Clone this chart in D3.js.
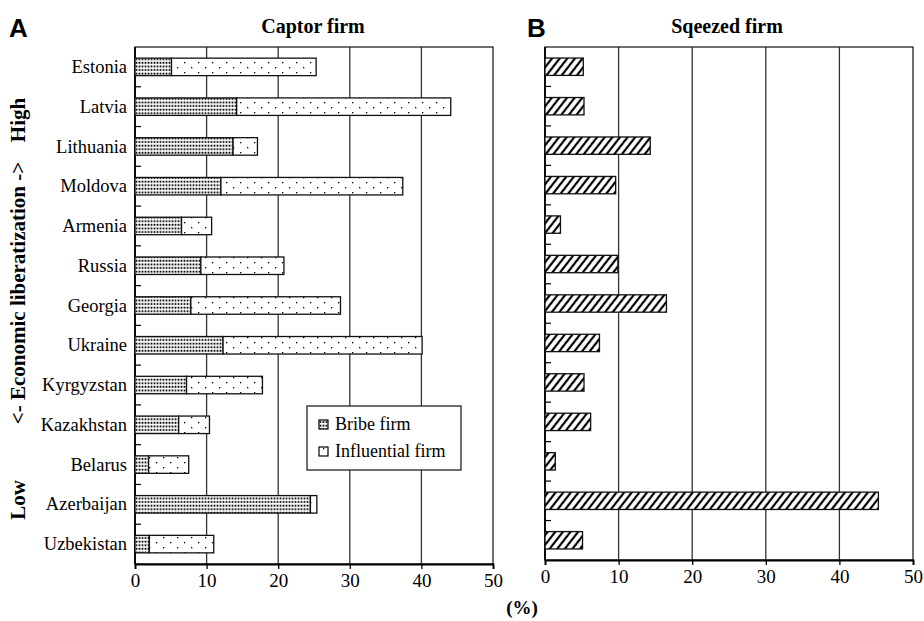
<!DOCTYPE html>
<html>
<head>
<meta charset="utf-8">
<script src="https://cdn.jsdelivr.net/npm/d3@7"></script>
<style>
  body { margin: 0; background: #fff; }
  svg { display: block; }
  text { font-family: "Liberation Serif", "Times New Roman", serif; fill: #000; }
</style>
</head>
<body>
<div id="chart"></div>
<script>
/* data (percent of firms) */
const countries = ["Estonia", "Latvia", "Lithuania", "Moldova", "Armenia", "Russia", "Georgia",
  "Ukraine", "Kyrgyzstan", "Kazakhstan", "Belarus", "Azerbaijan", "Uzbekistan"];
const bribeFirm = [5.1, 14.2, 13.7, 12.0, 6.5, 9.2, 7.8, 12.3, 7.2, 6.1, 1.9, 24.5, 2.0];
const influentialFirm = [20.2, 29.9, 3.4, 25.4, 4.2, 11.6, 20.9, 27.8, 10.6, 4.3, 5.6, 0.9, 9.0];
const squeezedFirm = [5.2, 5.3, 14.3, 9.6, 2.1, 9.9, 16.5, 7.4, 5.3, 6.2, 1.4, 45.3, 5.1];
const xTicks = [0, 10, 20, 30, 40, 50];

const serif = "'Liberation Serif', 'Times New Roman', serif";
const width = 924, height = 621;
const svg = d3.select("#chart").append("svg")
  .attr("width", width).attr("height", height);

/* fill patterns */
const defs = svg.append("defs");
const pBribe = defs.append("pattern").attr("id", "bribe")
  .attr("patternUnits", "userSpaceOnUse").attr("width", 3).attr("height", 3.6);
pBribe.append("rect").attr("width", 3).attr("height", 3.6).attr("fill", "#fff");
pBribe.append("rect").attr("x", 0.6).attr("y", 0.7).attr("width", 1.8).attr("height", 1.8).attr("fill", "#000");

const pInfl = defs.append("pattern").attr("id", "infl")
  .attr("patternUnits", "userSpaceOnUse").attr("width", 14).attr("height", 10);
pInfl.append("rect").attr("width", 14).attr("height", 10).attr("fill", "#fff");
pInfl.append("rect").attr("x", 2).attr("y", 2).attr("width", 1.3).attr("height", 1.3).attr("fill", "#000");
pInfl.append("rect").attr("x", 9).attr("y", 7).attr("width", 1.3).attr("height", 1.3).attr("fill", "#000");

const pHatch = defs.append("pattern").attr("id", "hatch")
  .attr("patternUnits", "userSpaceOnUse").attr("width", 6).attr("height", 6)
  .attr("patternTransform", "rotate(38)");
pHatch.append("rect").attr("width", 6).attr("height", 6).attr("fill", "#fff");
pHatch.append("line").attr("x1", 3).attr("x2", 3).attr("y1", 0).attr("y2", 6)
  .attr("stroke", "#000").attr("stroke-width", 2.2);

/* draws frame, grid, axes for one panel */
function panel(left, right, top, bottom) {
  const x = d3.scaleLinear().domain([0, 50]).range([left, right]);
  const y = d3.scaleBand().domain(countries).range([top, bottom]).paddingInner(0.56).paddingOuter(0.28);
  const g = svg.append("g");
  g.selectAll("line.grid").data(xTicks.slice(1, -1)).enter()
    .append("line").attr("class", "grid")
    .attr("x1", d => x(d)).attr("x2", d => x(d))
    .attr("y1", top).attr("y2", bottom)
    .attr("stroke", "#333").attr("stroke-width", 1.3);
  g.append("rect").attr("x", left).attr("y", top)
    .attr("width", right - left).attr("height", bottom - top)
    .attr("fill", "none").attr("stroke", "#222").attr("stroke-width", 1.3);
  // small ticks on the category axis between rows
  const step = y.step();
  g.selectAll("line.ytick").data(countries.slice(1)).enter()
    .append("line").attr("class", "ytick")
    .attr("x1", left).attr("x2", left + 6)
    .attr("y1", d => y(d) - step * y.paddingInner() / 2)
    .attr("y2", d => y(d) - step * y.paddingInner() / 2)
    .attr("stroke", "#000").attr("stroke-width", 1.2);
  const xAxis = d3.axisBottom(x).tickValues(xTicks).tickSize(5).tickPadding(5);
  const ax = g.append("g").attr("transform", `translate(0,${bottom})`).call(xAxis)
    .attr("font-family", serif);
  ax.select(".domain").attr("stroke-width", 1.8);
  ax.selectAll(".tick line").attr("stroke-width", 1.3);
  ax.selectAll("text").attr("font-size", 19).style("font-family", serif);
  g.append("line").attr("x1", left).attr("x2", left).attr("y1", top).attr("y2", bottom)
    .attr("stroke", "#000").attr("stroke-width", 1.8);
  return { x, y, g };
}

/* panel A: captor firm */
const A = panel(135, 493, 47, 564);
A.g.selectAll("rect.bribe").data(countries).enter()
  .append("rect").attr("class", "bribe")
  .attr("x", A.x(0)).attr("y", d => A.y(d))
  .attr("width", (d, i) => A.x(bribeFirm[i]) - A.x(0))
  .attr("height", A.y.bandwidth())
  .attr("fill", "url(#bribe)").attr("stroke", "#111").attr("stroke-width", 1.3);
A.g.selectAll("rect.infl").data(countries).enter()
  .append("rect").attr("class", "infl")
  .attr("x", (d, i) => A.x(bribeFirm[i])).attr("y", d => A.y(d))
  .attr("width", (d, i) => A.x(bribeFirm[i] + influentialFirm[i]) - A.x(bribeFirm[i]))
  .attr("height", A.y.bandwidth())
  .attr("fill", "url(#infl)").attr("stroke", "#111").attr("stroke-width", 1.3);
A.g.selectAll("text.cat").data(countries).enter()
  .append("text").attr("class", "cat")
  .attr("x", 127).attr("y", d => A.y(d) + A.y.bandwidth() / 2)
  .attr("dy", "0.33em").attr("text-anchor", "end").attr("font-size", 18.5)
  .style("font-family", serif)
  .text(d => d);

/* panel B: squeezed firm */
const B = panel(545, 913, 47, 560);
B.g.selectAll("rect.sq").data(countries).enter()
  .append("rect").attr("class", "sq")
  .attr("x", B.x(0)).attr("y", d => B.y(d))
  .attr("width", (d, i) => B.x(squeezedFirm[i]) - B.x(0))
  .attr("height", B.y.bandwidth())
  .attr("fill", "url(#hatch)").attr("stroke", "#111").attr("stroke-width", 1.3);

/* legend */
const leg = svg.append("g").attr("transform", "translate(307,406)");
leg.append("rect").attr("width", 154).attr("height", 64)
  .attr("fill", "#fff").attr("stroke", "#222").attr("stroke-width", 1.3);
const legItems = [["Bribe firm", "url(#bribe)"], ["Influential firm", "url(#infl)"]];
legItems.forEach((it, i) => {
  leg.append("rect").attr("x", 12).attr("y", 14 + i * 27).attr("width", 9).attr("height", 9)
    .attr("fill", it[1]).attr("stroke", "#000").attr("stroke-width", 1.2);
  leg.append("text").attr("x", 28).attr("y", 24 + i * 27).attr("font-size", 18)
    .style("font-family", serif).text(it[0]);
});

/* titles and labels */
svg.append("text").attr("x", 313).attr("y", 33).attr("text-anchor", "middle")
  .attr("font-size", 20).attr("font-weight", "bold").text("Captor firm");
svg.append("text").attr("x", 727).attr("y", 33).attr("text-anchor", "middle")
  .attr("font-size", 20).attr("font-weight", "bold").text("Sqeezed firm");
svg.append("text").attr("x", 9).attr("y", 37).attr("font-size", 26).attr("font-weight", "bold")
  .style("font-family", "Liberation Sans, Arial, sans-serif").text("A");
svg.append("text").attr("x", 527).attr("y", 37).attr("font-size", 26).attr("font-weight", "bold")
  .style("font-family", "Liberation Sans, Arial, sans-serif").text("B");
svg.append("text").attr("x", 522).attr("y", 614).attr("text-anchor", "middle")
  .attr("font-size", 19).attr("font-weight", "bold").text("(%)");

const side = [["High", 120], ["<- Economic liberatization ->", 293], ["Low", 500]];
side.forEach(s => {
  svg.append("text").attr("transform", `translate(25,${s[1]}) rotate(-90)`)
    .attr("text-anchor", "middle").attr("font-size", 21).attr("font-weight", "bold")
    .text(s[0]);
});
</script>
</body>
</html>
